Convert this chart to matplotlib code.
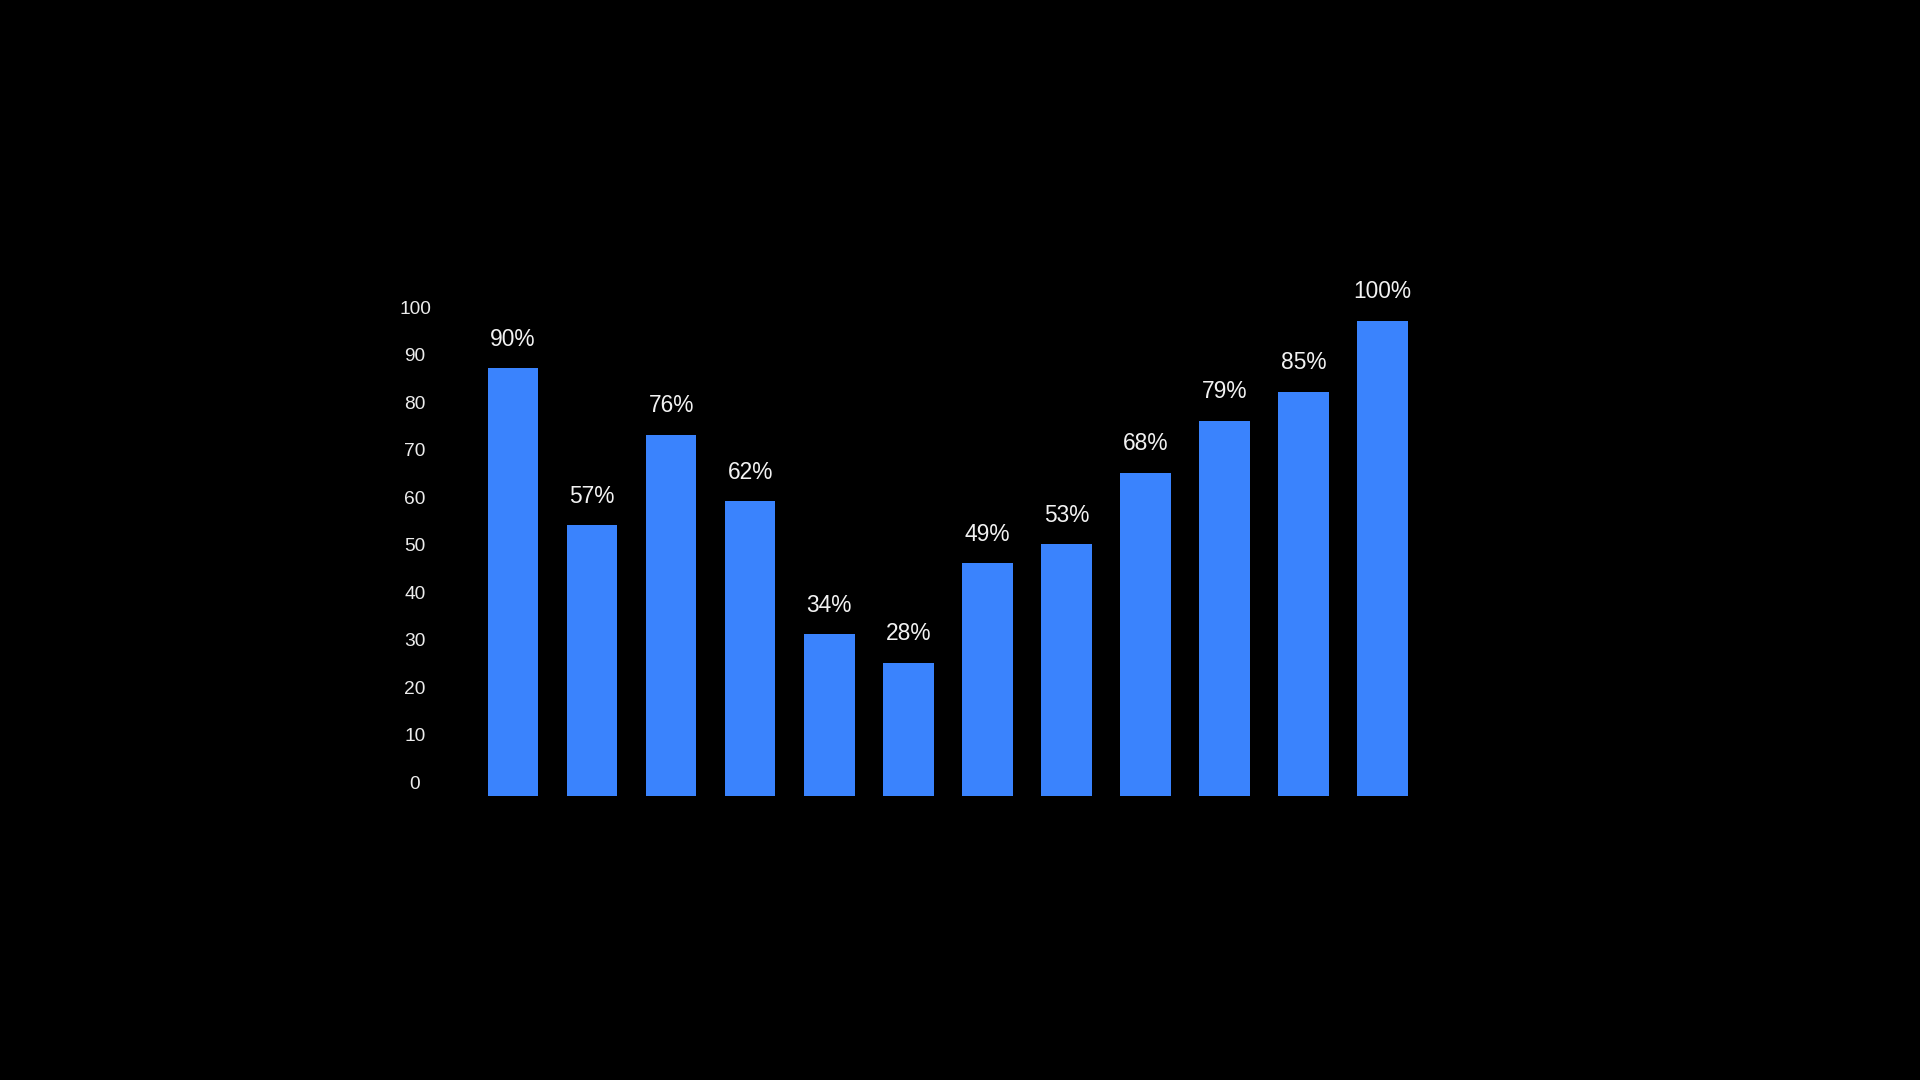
import matplotlib
matplotlib.use("Agg")
import matplotlib.pyplot as plt
import matplotlib.transforms as mtransforms

plt.rcParams['font.family'] = ['Liberation Sans', 'DejaVu Sans']

# bar values (percent)
values = [90, 57, 76, 62, 34, 28, 49, 53, 68, 79, 85, 100]
labels = [f"{v}%" for v in values]
yticks = [0, 10, 20, 30, 40, 50, 60, 70, 80, 90, 100]

bar_color = '#3a83fd'

fig = plt.figure(figsize=(19.2, 10.8), dpi=100, facecolor='black')
# axes placed in pixels: left 440, bottom y=796, top (100) y=320.7
ax = fig.add_axes([440 / 1920, 284 / 1080, 1060 / 1920, 475.3 / 1080])
ax.set_facecolor('black')

x = list(range(len(values)))
bars = ax.bar(x, values, width=0.64, color=bar_color)

# value labels above each bar
for xi, v, lab in zip(x, values, labels):
    ax.annotate(lab, (xi, v), xytext=(0, 16.2), textcoords='offset points',
                ha='center', va='baseline', fontsize=16.4, color='#f2f2f2')

ax.set_ylim(0, 100)
# bar centres at x px 513, pitch 79.06
ax.set_xlim((440 - 513) / 79.06, (1500 - 513) / 79.06)

ax.set_yticks(yticks)
ax.set_yticklabels([str(t) for t in yticks])
ax.set_xticks([])
ax.tick_params(axis='y', length=0, pad=18, labelsize=13.8, labelcolor='#ececec')
offset = mtransforms.ScaledTranslation(0, 13.7 / 100, fig.dpi_scale_trans)
for lab in ax.get_yticklabels():
    lab.set_horizontalalignment('center')
    lab.set_transform(lab.get_transform() + offset)

for s in ax.spines.values():
    s.set_visible(False)

fig.savefig('out.png', dpi=100, facecolor='black')
